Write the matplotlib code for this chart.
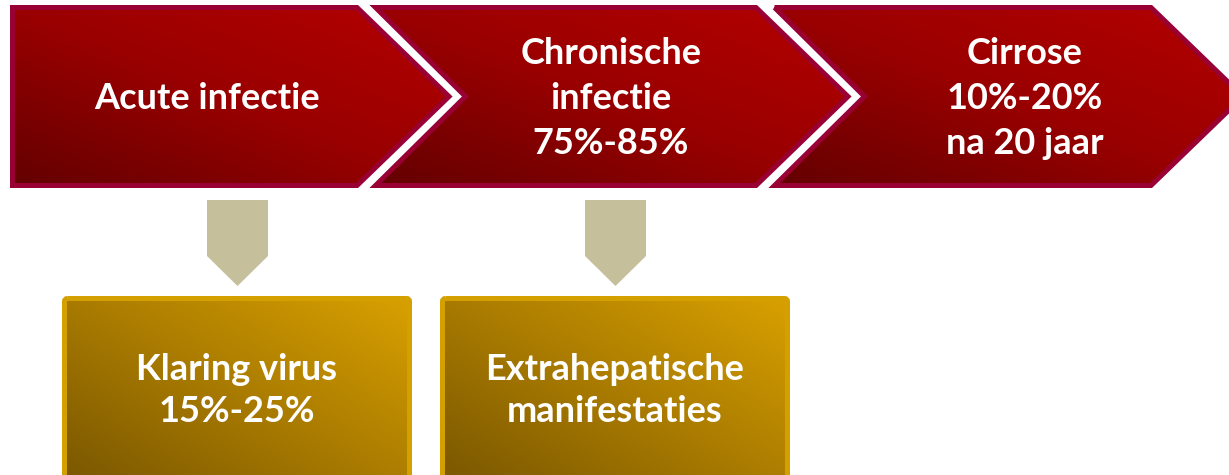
import numpy as np
from matplotlib import pyplot as plt
from matplotlib.patches import Polygon, FancyBboxPatch
from matplotlib.colors import LinearSegmentedColormap

plt.rcParams['font.family'] = ['Lato', 'DejaVu Sans']

# Teksten in het schema
stappen = [["Acute infectie"],
           ["Chronische", "infectie", "75%-85%"],
           ["Cirrose", "10%-20%", "na 20 jaar"]]
uitkomsten = [["Klaring virus", "15%-25%"],
              ["Extrahepatische", "manifestaties"]]

rood = LinearSegmentedColormap.from_list("rood", ["#640000", "#9a0000", "#b40000"])
goud = LinearSegmentedColormap.from_list("goud", ["#765400", "#a87a00", "#d8a000"])

fig = plt.figure(figsize=(12.29, 4.75), dpi=100)
ax = fig.add_axes([0, 0, 1, 1])
ax.set_xlim(0, 1229)
ax.set_ylim(475, 0)
ax.axis("off")


def verloop(ax, patch, cmap):
    # gradient van linksonder (donker) naar rechtsboven (licht), afgeknipt op de vorm
    ax.add_patch(patch)
    bb = patch.get_extents().transformed(ax.transData.inverted())
    x0, x1 = bb.x0, bb.x1
    ya, yb = min(bb.y0, bb.y1), max(bb.y0, bb.y1)
    xs = np.linspace(0, 1, 200)
    ys = np.linspace(0, 1, 100)
    t = (xs[None, :] + (1 - ys[:, None])) / 2
    im = ax.imshow(t, cmap=cmap, extent=(x0, x1, yb, ya), origin="upper",
                   aspect="auto", interpolation="bilinear", zorder=1)
    im.set_clip_path(patch)
    ax.set_xlim(0, 1229)
    ax.set_ylim(475, 0)


# pijlen bovenaan
y_top, y_bot = 7.5, 185.5
y_mid = (y_top + y_bot) / 2
links = [12.5, 375.5, 774.5]
hoek = [357, 756, 1151]
punt = 92
inkeping = 90

for i, (xl, xc) in enumerate(zip(links, hoek)):
    pts = [(xl, y_top), (xc, y_top), (xc + punt, y_mid), (xc, y_bot), (xl, y_bot)]
    if i > 0:
        pts.append((xl + inkeping, y_mid))
    vorm = Polygon(pts, closed=True, facecolor="none", edgecolor="#990033",
                   linewidth=3.6, joinstyle="miter", zorder=2)
    verloop(ax, Polygon(pts, closed=True, facecolor="none", edgecolor="none"), rood)
    ax.add_patch(vorm)

tekst_x = [207, 611, 1025]
regel = 45.5
for x, regels in zip(tekst_x, stappen):
    n = len(regels)
    for j, r in enumerate(regels):
        y = y_mid + 2 + (j - (n - 1) / 2) * regel
        ax.text(x, y, r, color="white", fontsize=26, fontweight="bold",
                ha="center", va="center", zorder=3)

# pijlen naar beneden
pijl_x = [237.5, 615.5]
for x in pijl_x:
    pts = [(x - 30.5, 200), (x + 30.5, 200), (x + 30.5, 256), (x, 286), (x - 30.5, 256)]
    ax.add_patch(Polygon(pts, closed=True, facecolor="#c5bf9b", edgecolor="none", zorder=2))

# blokken onderaan
blok_x = [62, 440]
blok_b = 350
for x, regels in zip(blok_x, uitkomsten):
    rand = FancyBboxPatch((x + 2.5, 298.5), blok_b - 5, 200, boxstyle="round,pad=0,rounding_size=3",
                          facecolor="none", edgecolor="#d4a000", linewidth=3.6, zorder=2)
    verloop(ax, FancyBboxPatch((x + 2.5, 298.5), blok_b - 5, 200, boxstyle="round,pad=0,rounding_size=3",
                               facecolor="none", edgecolor="none"), goud)
    ax.add_patch(rand)
    cx = x + blok_b / 2
    for j, r in enumerate(regels):
        ax.text(cx, 369 + j * 43, r, color="white", fontsize=26, fontweight="bold",
                ha="center", va="center", zorder=3)

fig.savefig("out.png", dpi=100)
